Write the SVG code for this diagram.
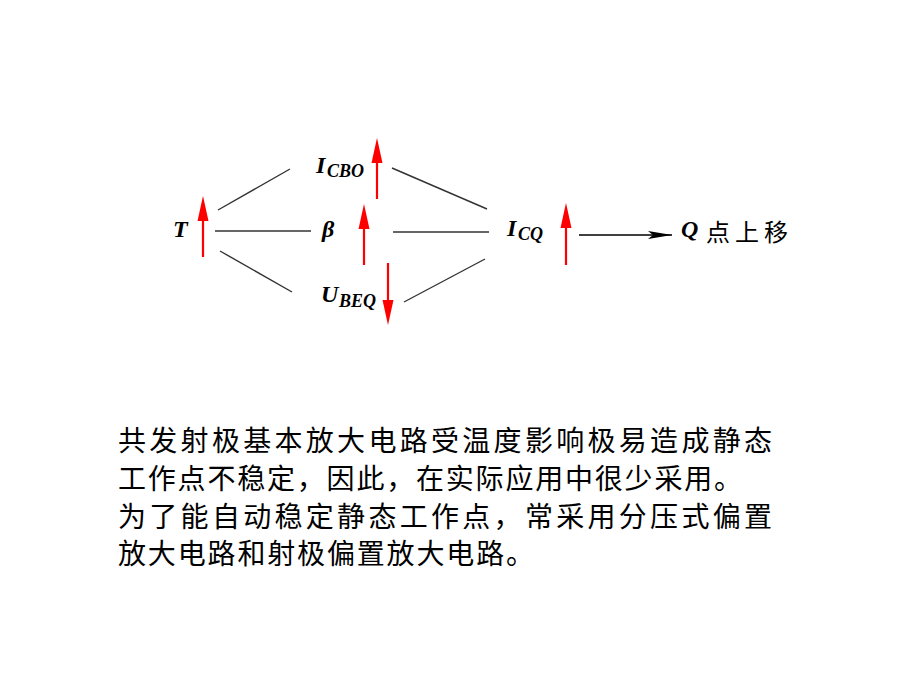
<svg xmlns="http://www.w3.org/2000/svg" width="920" height="690" viewBox="0 0 920 690">
  <defs>
    <style>
      .var { font-family: "Liberation Serif", "Times New Roman", serif; font-style: italic; font-weight: bold; font-size: 24px; fill: #000; }
      .sub { font-family: "Liberation Serif", "Times New Roman", serif; font-style: italic; font-weight: bold; font-size: 18px; fill: #000; }
      .cjk { font-family: "Noto Sans CJK SC", sans-serif; fill: #000; }
      .link { stroke: #333; stroke-width: 1.4; fill: none; }
      .red { stroke: #ff0000; stroke-width: 2.2; fill: none; }
      .redhead { fill: #ff0000; }
    </style>
    <marker id="blackArrow" markerUnits="userSpaceOnUse" markerWidth="24" markerHeight="10" viewBox="0 0 24 10" refX="24" refY="5" orient="auto">
      <path d="M0 1 L24 5 L0 9 L5 5 Z" fill="#000"/>
    </marker>
  </defs>
  <rect width="920" height="690" fill="#fff"/>

  <g id="connectors">
    <line class="link" x1="218" y1="210" x2="290" y2="169"/>
    <line class="link" x1="215" y1="231" x2="311" y2="231"/>
    <line class="link" x1="220" y1="251" x2="292" y2="292"/>
    <line class="link" x1="392" y1="168" x2="487" y2="209"/>
    <line class="link" x1="393" y1="232" x2="489" y2="232"/>
    <line class="link" x1="404" y1="302" x2="485" y2="259"/>
    <line x1="579" y1="235" x2="672" y2="235" stroke="#000" stroke-width="1.6" marker-end="url(#blackArrow)"/>
  </g>

  <g id="node-T">
    <text class="var" x="173" y="237">T</text>
    <line class="red" x1="203" y1="257" x2="203" y2="218"/>
    <path class="redhead" d="M203 196 L208.5 221 L197.5 221 Z"/>
  </g>

  <g id="node-ICBO">
    <text class="var" x="316" y="173">I</text>
    <text class="sub" x="327" y="177">CBO</text>
    <line class="red" x1="377" y1="199" x2="377" y2="160"/>
    <path class="redhead" d="M377 138 L382.5 163 L371.5 163 Z"/>
  </g>

  <g id="node-beta">
    <text class="var" x="322" y="237">β</text>
    <line class="red" x1="364" y1="265" x2="364" y2="226"/>
    <path class="redhead" d="M364 204 L369.5 229 L358.5 229 Z"/>
  </g>

  <g id="node-UBEQ">
    <text class="var" x="321" y="302">U</text>
    <text class="sub" x="339" y="307">BEQ</text>
    <line class="red" x1="388" y1="263" x2="388" y2="302"/>
    <path class="redhead" d="M388 325 L393.5 300 L382.5 300 Z"/>
  </g>

  <g id="node-ICQ">
    <text class="var" x="507" y="236">I</text>
    <text class="sub" x="518" y="240">CQ</text>
    <line class="red" x1="566" y1="265" x2="566" y2="226"/>
    <path class="redhead" d="M566 203 L571.5 228 L560.5 228 Z"/>
  </g>

  <g id="node-Q">
    <text class="var" x="681" y="237">Q</text>
    <text class="cjk" x="706" y="241" font-size="24" letter-spacing="5">点上移</text>
  </g>

  <g id="paragraph" class="cjk" font-size="28">
    <text x="118" y="451" textLength="654" lengthAdjust="spacing">共发射极基本放大电路受温度影响极易造成静态</text>
    <text x="118" y="489" textLength="624" lengthAdjust="spacing">工作点不稳定，因此，在实际应用中很少采用。</text>
    <text x="118" y="527" textLength="654" lengthAdjust="spacing">为了能自动稳定静态工作点，常采用分压式偏置</text>
    <text x="118" y="564" textLength="416" lengthAdjust="spacing">放大电路和射极偏置放大电路。</text>
  </g>
</svg>
